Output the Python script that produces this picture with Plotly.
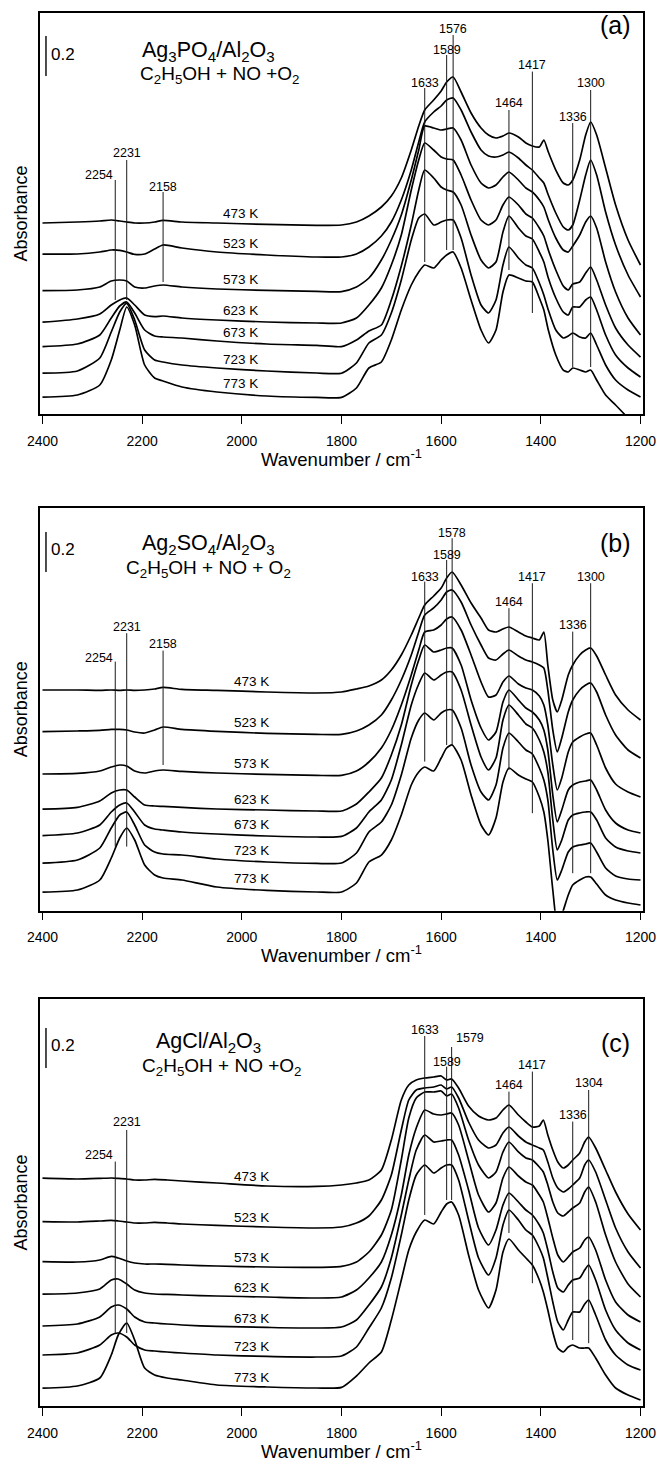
import numpy as np
import plotly.graph_objects as go

FONT = "Liberation Sans, Arial, Helvetica, sans-serif"
TEMPS = ["473 K", "523 K", "573 K", "623 K", "673 K", "723 K", "773 K"]
XTICKS = [2400, 2200, 2000, 1800, 1600, 1400, 1200]

# ---------------- panel (a): Ag3PO4/Al2O3 ----------------
WN_A = [2400, 2330, 2285, 2262, 2245, 2231, 2215, 2195, 2175, 2158, 2120, 2050, 1950, 1850, 1800,
        1770, 1745, 1720, 1700, 1680, 1660, 1645, 1633, 1615, 1600, 1589, 1576, 1560, 1540, 1520,
        1505, 1490, 1476, 1464, 1445, 1430, 1417, 1403, 1394, 1385, 1370, 1355, 1345, 1336, 1322,
        1310, 1300, 1288, 1270, 1250, 1225, 1200]
a473 = [0.955, 0.960, 0.965, 0.970, 0.965, 0.960, 0.955, 0.955, 0.960, 0.968, 0.960, 0.955, 0.948, 0.943, 0.945,
        0.960, 0.990, 1.035, 1.090, 1.180, 1.320, 1.440, 1.520, 1.570, 1.615, 1.660, 1.685, 1.610, 1.505, 1.430,
        1.395, 1.380, 1.390, 1.405, 1.385, 1.355, 1.340, 1.335, 1.370, 1.310, 1.220, 1.155, 1.145, 1.170, 1.270,
        1.395, 1.460, 1.395, 1.230, 1.045, 0.870, 0.745]
a523 = [0.799, 0.800, 0.810, 0.820, 0.818, 0.810, 0.798, 0.800, 0.825, 0.845, 0.830, 0.810, 0.795, 0.785, 0.785,
        0.800, 0.835, 0.890, 0.960, 1.070, 1.220, 1.360, 1.460, 1.510, 1.540, 1.570, 1.580, 1.520, 1.410, 1.320,
        1.290, 1.285, 1.295, 1.310, 1.280, 1.245, 1.220, 1.180, 1.155, 1.095, 1.005, 0.935, 0.920, 0.945, 1.070,
        1.195, 1.270, 1.195, 1.010, 0.845, 0.695, 0.585]
a573 = [0.617, 0.620, 0.635, 0.665, 0.670, 0.665, 0.635, 0.630, 0.640, 0.645, 0.635, 0.625, 0.618, 0.613, 0.612,
        0.635, 0.680, 0.770, 0.870, 0.995, 1.170, 1.320, 1.440, 1.430, 1.420, 1.425, 1.430, 1.370, 1.245, 1.155,
        1.130, 1.145, 1.185, 1.210, 1.170, 1.130, 1.110, 1.070, 1.035, 0.970, 0.880, 0.820, 0.810, 0.840, 0.895,
        0.960, 0.990, 0.930, 0.760, 0.610, 0.480, 0.395]
a623 = [0.459, 0.475, 0.500, 0.545, 0.570, 0.580, 0.545, 0.495, 0.487, 0.490, 0.480, 0.470, 0.460, 0.455, 0.455,
        0.480, 0.545, 0.630, 0.745, 0.895, 1.120, 1.270, 1.355, 1.320, 1.285, 1.275, 1.270, 1.195, 1.070, 0.970,
        0.945, 0.970, 1.045, 1.085, 1.045, 1.000, 0.980, 0.930, 0.890, 0.820, 0.720, 0.640, 0.620, 0.650, 0.660,
        0.705, 0.735, 0.670, 0.545, 0.430, 0.345, 0.285]
a673 = [0.337, 0.350, 0.395, 0.480, 0.540, 0.560, 0.505, 0.420, 0.390, 0.385, 0.380, 0.365, 0.350, 0.343, 0.337,
        0.370, 0.415, 0.445, 0.570, 0.740, 0.945, 1.120, 1.220, 1.180, 1.135, 1.120, 1.110, 1.045, 0.895, 0.770,
        0.730, 0.760, 0.910, 0.990, 0.930, 0.890, 0.875, 0.810, 0.760, 0.680, 0.580, 0.510, 0.495, 0.535, 0.535,
        0.570, 0.585, 0.520, 0.395, 0.295, 0.230, 0.185]
a723 = [0.204, 0.215, 0.280, 0.410, 0.510, 0.553, 0.470, 0.320, 0.270, 0.260, 0.245, 0.230, 0.215, 0.205, 0.204,
        0.255, 0.355, 0.395, 0.505, 0.670, 0.870, 0.980, 1.000, 0.945, 0.960, 0.970, 0.970, 0.880, 0.695, 0.545,
        0.505, 0.570, 0.745, 0.835, 0.780, 0.745, 0.730, 0.655, 0.595, 0.520, 0.420, 0.380, 0.390, 0.405, 0.385,
        0.380, 0.405, 0.345, 0.245, 0.170, 0.120, 0.085]
a773 = [0.084, 0.095, 0.145, 0.270, 0.420, 0.535, 0.445, 0.245, 0.180, 0.165, 0.135, 0.110, 0.090, 0.083, 0.083,
        0.130, 0.230, 0.260, 0.370, 0.520, 0.645, 0.710, 0.745, 0.730, 0.770, 0.795, 0.810, 0.730, 0.570, 0.420,
        0.355, 0.420, 0.610, 0.695, 0.680, 0.665, 0.660, 0.580, 0.520, 0.420, 0.295, 0.220, 0.210, 0.230, 0.220,
        0.210, 0.220, 0.170, 0.095, 0.045, -0.020, None]

# ---------------- panel (b): Ag2SO4/Al2O3 ----------------
WN_B = [2400, 2330, 2285, 2262, 2245, 2231, 2215, 2195, 2175, 2158, 2120, 2050, 1950, 1850, 1800,
        1770, 1745, 1720, 1700, 1680, 1660, 1645, 1633, 1615, 1600, 1589, 1578, 1560, 1540, 1520,
        1505, 1490, 1476, 1464, 1445, 1430, 1417, 1403, 1394, 1386, 1376, 1367, 1358, 1345, 1336,
        1322, 1310, 1300, 1288, 1270, 1250, 1225, 1200]
b473 = [1.100, 1.100, 1.098, 1.100, 1.098, 1.100, 1.098, 1.100, 1.105, 1.113, 1.103, 1.098, 1.090, 1.085, 1.090,
        1.105, 1.120, 1.150, 1.200, 1.275, 1.375, 1.460, 1.525, 1.570, 1.610, 1.660, 1.690, 1.625, 1.535, 1.460,
        1.400, 1.390, 1.405, 1.415, 1.390, 1.370, 1.360, 1.350, 1.390, 1.225, 1.050, 0.990, 1.050, 1.175, 1.225,
        1.275, 1.300, 1.310, 1.270, 1.175, 1.075, 1.000, 0.950]
b523 = [0.892, 0.895, 0.898, 0.903, 0.903, 0.900, 0.890, 0.885, 0.900, 0.915, 0.903, 0.893, 0.883, 0.878, 0.878,
        0.895, 0.925, 0.975, 1.050, 1.150, 1.275, 1.390, 1.475, 1.510, 1.550, 1.590, 1.600, 1.540, 1.425, 1.325,
        1.260, 1.250, 1.280, 1.300, 1.270, 1.250, 1.240, 1.225, 1.210, 1.100, 0.900, 0.790, 0.860, 0.990, 1.050,
        1.100, 1.125, 1.135, 1.090, 0.975, 0.875, 0.800, 0.760]
b573 = [0.680, 0.683, 0.695, 0.715, 0.725, 0.720, 0.695, 0.685, 0.695, 0.700, 0.693, 0.685, 0.678, 0.673, 0.673,
        0.695, 0.740, 0.810, 0.900, 1.025, 1.175, 1.300, 1.390, 1.400, 1.425, 1.455, 1.465, 1.400, 1.275, 1.140,
        1.065, 1.075, 1.140, 1.170, 1.130, 1.110, 1.100, 1.070, 1.025, 0.925, 0.725, 0.600, 0.660, 0.790, 0.840,
        0.865, 0.880, 0.885, 0.825, 0.710, 0.630, 0.590, 0.565]
b623 = [0.504, 0.513, 0.545, 0.585, 0.600, 0.600, 0.565, 0.525, 0.520, 0.518, 0.513, 0.505, 0.500, 0.495, 0.495,
        0.530, 0.590, 0.660, 0.775, 0.925, 1.125, 1.250, 1.325, 1.290, 1.300, 1.310, 1.310, 1.225, 1.050, 0.910,
        0.850, 0.890, 1.040, 1.100, 1.050, 1.010, 0.990, 0.950, 0.900, 0.800, 0.575, 0.440, 0.500, 0.600, 0.625,
        0.640, 0.645, 0.650, 0.600, 0.500, 0.435, 0.400, 0.385]
b673 = [0.372, 0.385, 0.425, 0.490, 0.525, 0.535, 0.490, 0.425, 0.405, 0.400, 0.390, 0.380, 0.370, 0.365, 0.368,
        0.410, 0.490, 0.550, 0.650, 0.825, 1.025, 1.130, 1.185, 1.150, 1.175, 1.190, 1.190, 1.100, 0.925, 0.765,
        0.700, 0.760, 0.950, 1.025, 0.975, 0.930, 0.910, 0.850, 0.790, 0.690, 0.450, 0.300, 0.350, 0.450, 0.475,
        0.485, 0.490, 0.490, 0.450, 0.360, 0.315, 0.295, 0.285]
b723 = [0.234, 0.250, 0.310, 0.410, 0.475, 0.490, 0.425, 0.325, 0.290, 0.280, 0.275, 0.255, 0.240, 0.233, 0.235,
        0.285, 0.390, 0.440, 0.525, 0.675, 0.860, 0.950, 0.985, 0.950, 0.985, 1.000, 1.000, 0.910, 0.725, 0.590,
        0.550, 0.625, 0.810, 0.885, 0.840, 0.800, 0.780, 0.710, 0.650, 0.550, 0.300, 0.150, 0.200, 0.290, 0.315,
        0.325, 0.330, 0.335, 0.290, 0.210, 0.170, 0.155, 0.150]
b773 = [0.089, 0.100, 0.150, 0.260, 0.360, 0.410, 0.350, 0.225, 0.175, 0.160, 0.150, 0.115, 0.098, 0.090, 0.090,
        0.135, 0.240, 0.275, 0.350, 0.475, 0.625, 0.690, 0.715, 0.695, 0.760, 0.810, 0.825, 0.750, 0.575, 0.425,
        0.375, 0.460, 0.640, 0.710, 0.675, 0.655, 0.640, 0.565, 0.490, 0.350, 0.100, -0.075, -0.025, 0.075, 0.125,
        0.150, 0.165, 0.165, 0.130, 0.075, 0.050, 0.035, 0.025]

# ---------------- panel (c): AgCl/Al2O3 ----------------
WN_C = [2400, 2330, 2285, 2262, 2248, 2231, 2215, 2195, 2175, 2150, 2120, 2050, 1950, 1850, 1800,
        1770, 1745, 1720, 1700, 1680, 1665, 1650, 1633, 1615, 1600, 1589, 1579, 1565, 1545, 1525,
        1505, 1490, 1476, 1464, 1445, 1430, 1417, 1403, 1395, 1386, 1376, 1366, 1355, 1345, 1336,
        1322, 1312, 1304, 1290, 1270, 1250, 1225, 1200]
c473 = [1.139, 1.135, 1.138, 1.140, 1.138, 1.135, 1.130, 1.130, 1.133, 1.130, 1.125, 1.115, 1.100, 1.098, 1.105,
        1.115, 1.130, 1.180, 1.330, 1.530, 1.605, 1.630, 1.640, 1.645, 1.650, 1.630, 1.635, 1.590, 1.500, 1.450,
        1.430, 1.440, 1.480, 1.505, 1.455, 1.420, 1.395, 1.400, 1.430, 1.355, 1.280, 1.220, 1.190, 1.205, 1.230,
        1.265, 1.320, 1.345, 1.290, 1.180, 1.070, 0.960, 0.880]
c523 = [0.922, 0.920, 0.925, 0.928, 0.925, 0.920, 0.915, 0.915, 0.918, 0.915, 0.910, 0.903, 0.895, 0.890, 0.895,
        0.915, 0.950, 1.030, 1.155, 1.380, 1.530, 1.580, 1.590, 1.595, 1.605, 1.585, 1.595, 1.540, 1.420, 1.330,
        1.290, 1.305, 1.365, 1.395, 1.350, 1.320, 1.305, 1.290, 1.280, 1.220, 1.140, 1.090, 1.070, 1.085, 1.105,
        1.140, 1.205, 1.230, 1.170, 1.030, 0.890, 0.770, 0.690]
c573 = [0.722, 0.720, 0.730, 0.748, 0.740, 0.725, 0.715, 0.710, 0.710, 0.708, 0.705, 0.700, 0.695, 0.693, 0.698,
        0.720, 0.770, 0.855, 0.980, 1.230, 1.440, 1.540, 1.570, 1.570, 1.575, 1.550, 1.560, 1.490, 1.330, 1.205,
        1.140, 1.170, 1.270, 1.320, 1.270, 1.240, 1.230, 1.195, 1.170, 1.105, 1.020, 0.965, 0.950, 0.970, 0.990,
        1.015, 1.070, 1.095, 1.020, 0.855, 0.720, 0.610, 0.545]
c623 = [0.559, 0.565, 0.585, 0.630, 0.635, 0.610, 0.580, 0.565, 0.560, 0.558, 0.555, 0.550, 0.545, 0.540, 0.545,
        0.580, 0.640, 0.720, 0.855, 1.055, 1.255, 1.390, 1.480, 1.460, 1.455, 1.460, 1.465, 1.405, 1.230, 1.055,
        0.970, 1.015, 1.140, 1.195, 1.150, 1.120, 1.105, 1.055, 1.020, 0.940, 0.840, 0.755, 0.720, 0.745, 0.770,
        0.790, 0.830, 0.845, 0.780, 0.630, 0.520, 0.455, 0.420]
c673 = [0.400, 0.410, 0.445, 0.495, 0.505, 0.485, 0.445, 0.420, 0.415, 0.410, 0.405, 0.398, 0.393, 0.390, 0.395,
        0.430, 0.505, 0.595, 0.740, 0.955, 1.130, 1.280, 1.355, 1.320, 1.325, 1.330, 1.330, 1.255, 1.080, 0.890,
        0.805, 0.880, 1.005, 1.065, 1.020, 0.980, 0.955, 0.905, 0.865, 0.780, 0.670, 0.590, 0.570, 0.605, 0.630,
        0.640, 0.680, 0.705, 0.630, 0.480, 0.380, 0.315, 0.280]
c723 = [0.255, 0.265, 0.305, 0.355, 0.365, 0.345, 0.305, 0.280, 0.275, 0.270, 0.265, 0.255, 0.248, 0.245, 0.250,
        0.295, 0.390, 0.490, 0.640, 0.855, 1.030, 1.155, 1.205, 1.165, 1.190, 1.205, 1.205, 1.130, 0.930, 0.740,
        0.655, 0.740, 0.905, 0.980, 0.930, 0.880, 0.855, 0.790, 0.740, 0.640, 0.520, 0.420, 0.380, 0.430, 0.470,
        0.470, 0.510, 0.530, 0.455, 0.330, 0.255, 0.205, 0.180]
c773 = [0.089, 0.100, 0.140, 0.255, 0.355, 0.415, 0.330, 0.190, 0.155, 0.140, 0.130, 0.105, 0.095, 0.090, 0.093,
        0.150, 0.215, 0.270, 0.430, 0.630, 0.780, 0.870, 0.930, 0.910, 0.970, 1.010, 1.020, 0.955, 0.755, 0.580,
        0.490, 0.580, 0.770, 0.835, 0.780, 0.740, 0.705, 0.630, 0.570, 0.480, 0.370, 0.290, 0.270, 0.295, 0.305,
        0.290, 0.290, 0.290, 0.240, 0.155, 0.090, 0.055, 0.030]

# peak marker labels: (text, wavenumber, label y, line top, line bottom, anchor)
PEAKS_A = [("2254", 2254, 1.195, 1.170, 0.570, "right"), ("2231", 2231, 1.303, 1.270, 0.570, "center"),
           ("2158", 2158, 1.135, 1.110, 0.660, "center"), ("1633", 1633, 1.657, 1.630, 0.760, "center"),
           ("1589", 1589, 1.820, 1.795, 0.820, "center"), ("1576", 1576, 1.924, 1.895, 0.820, "center"),
           ("1464", 1464, 1.555, 1.520, 0.720, "center"), ("1417", 1417, 1.745, 1.712, 0.505, "center"),
           ("1336", 1336, 1.487, 1.455, 0.235, "center"), ("1300", 1300, 1.654, 1.620, 0.235, "center")]
PEAKS_B = [("2254", 2254, 1.259, 1.242, 0.317, "right"), ("2231", 2231, 1.417, 1.384, 0.317, "center"),
           ("2158", 2158, 1.330, 1.297, 0.725, "center"), ("1633", 1633, 1.667, 1.642, 0.742, "center"),
           ("1589", 1589, 1.775, 1.750, 0.825, "center"), ("1578", 1578, 1.887, 1.859, 0.825, "center"),
           ("1464", 1464, 1.542, 1.509, 0.700, "center"), ("1417", 1417, 1.667, 1.634, 0.484, "center"),
           ("1336", 1336, 1.425, 1.392, 0.184, "center"), ("1300", 1300, 1.667, 1.634, 0.184, "center")]
PEAKS_C = [("2231", 2231, 1.422, 1.380, 0.365, "center"), ("2254", 2254, 1.255, 1.222, 0.365, "right"),
           ("1633", 1633, 1.880, 1.850, 0.955, "center"), ("1579", 1579, 1.839, 1.795, 1.030, "left"),
           ("1589", 1589, 1.722, 1.697, 1.030, "center"), ("1464", 1464, 1.605, 1.572, 0.865, "center"),
           ("1417", 1417, 1.705, 1.672, 0.614, "center"), ("1336", 1336, 1.455, 1.422, 0.330, "center"),
           ("1304", 1304, 1.614, 1.580, 0.314, "center")]

SUB2 = "C<sub>2</sub>H<sub>5</sub>OH + NO +O<sub>2</sub>"
panels = [
    dict(x="x", y="y", wn=WN_A, curves=[a473, a523, a573, a623, a673, a723, a773], peaks=PEAKS_A,
         yrange=[-0.0015, 2.0065], ydom=[0.71720, 0.99133], tlx=2003, tdy=0.05,
         t1="Ag<sub>3</sub>PO<sub>4</sub>/Al<sub>2</sub>O<sub>3</sub>", t1p=(2066, 1.815),
         t2=SUB2, t2p=(2044, 1.695), letter="(a)", lety=1.945, bar=(1.69, 1.89), xt_y=1 - 458 / 1465),
    dict(x="x2", y="y2", wn=WN_B, curves=[b473, b523, b573, b623, b673, b723, b773], peaks=PEAKS_B,
         yrange=[-0.0035, 2.0115], ydom=[0.37836, 0.65345], tlx=1981, tdy=0.052,
         t1="Ag<sub>2</sub>SO<sub>4</sub>/Al<sub>2</sub>O<sub>3</sub>", t1p=(2066, 1.825),
         t2="C<sub>2</sub>H<sub>5</sub>OH + NO + O<sub>2</sub>", t2p=(2066, 1.705), letter="(b)", lety=1.834,
         bar=(1.69, 1.89), xt_y=1 - 954 / 1465),
    dict(x="x3", y="y3", wn=WN_C, curves=[c473, c523, c573, c623, c673, c723, c773], peaks=PEAKS_C,
         yrange=[0.0, 2.035], ydom=[0.04027, 0.31809], tlx=1981, tdy=0.045,
         t1="AgCl/Al<sub>2</sub>O<sub>3</sub>", t1p=(2066, 1.818),
         t2=SUB2, t2p=(2040, 1.695), letter="(c)", lety=1.8135, bar=(1.69, 1.89), xt_y=1 - 1450 / 1465),
]

fig = go.Figure()
shapes, annots = [], []
for i, p in enumerate(panels):
    xr, yr = p["x"], p["y"]
    for temp, vals in zip(TEMPS, p["curves"]):
        fig.add_trace(go.Scatter(x=p["wn"], y=vals, mode="lines", xaxis=xr, yaxis=yr, name=temp,
                                 line=dict(color="black", width=1.7, shape="spline", smoothing=0.6),
                                 hoverinfo="skip", showlegend=False, connectgaps=False))
        pts = [(w, v) for w, v in zip(p["wn"], vals) if v is not None]
        ww = np.array([q[0] for q in pts])[::-1]
        vv = np.array([q[1] for q in pts])[::-1]
        ly = float(np.interp(p["tlx"], ww, vv)) + p["tdy"]
        annots.append(dict(x=p["tlx"], y=ly, xref=xr, yref=yr, text=temp, showarrow=False,
                           font=dict(size=13.5, family=FONT, color="black"), xanchor="center", yanchor="middle"))
    for txt, w, ty, top, bot, anc in p["peaks"]:
        shapes.append(dict(type="line", xref=xr, yref=yr, x0=w, x1=w, y0=bot, y1=top,
                           line=dict(color="#1a1a1a", width=1)))
        annots.append(dict(x=w, y=ty, xref=xr, yref=yr, text=txt, showarrow=False, xanchor=anc,
                           yanchor="middle", xshift=(2 if anc == "left" else 0),
                           font=dict(size=12.5, family=FONT, color="black")))
    annots.append(dict(x=p["t1p"][0], y=p["t1p"][1], xref=xr, yref=yr, text=p["t1"], showarrow=False,
                       xanchor="center", yanchor="middle",
                       font=dict(size=21.5, family=FONT, color="black")))
    annots.append(dict(x=p["t2p"][0], y=p["t2p"][1], xref=xr, yref=yr, text=p["t2"], showarrow=False,
                       xanchor="center", yanchor="middle",
                       font=dict(size=19, family=FONT, color="black")))
    annots.append(dict(x=1251, y=p["lety"], xref=xr, yref=yr, text=p["letter"], showarrow=False,
                       xanchor="center", yanchor="middle",
                       font=dict(size=25, family=FONT, color="black")))
    b0, b1 = p["bar"]
    shapes.append(dict(type="line", xref=xr, yref=yr, x0=2393, x1=2393, y0=b0, y1=b1,
                       line=dict(color="black", width=1.4)))
    annots.append(dict(x=2387, y=(b0 + b1) / 2 + 0.01, xref=xr, yref=yr, text="0.2", showarrow=False,
                       xanchor="left", yanchor="middle", font=dict(size=17, family=FONT, color="black")))
    annots.append(dict(x=21 / 656, y=(p["ydom"][0] + p["ydom"][1]) / 2, xref="paper", yref="paper",
                       text="Absorbance", textangle=-90, showarrow=False, xanchor="center", yanchor="middle",
                       font=dict(size=18, family=FONT, color="black")))
    annots.append(dict(x=0.5206, y=p["xt_y"], xref="paper", yref="paper", xanchor="center", yanchor="middle",
                       text="Wavenumber / cm<sup>-1</sup>", showarrow=False,
                       font=dict(size=18.5, family=FONT, color="black")))

    axx = dict(domain=[0.060976, 0.980183], range=[2405, 1195], anchor=yr, tickvals=XTICKS,
               ticks="outside", ticklen=8, tickwidth=1.3, tickcolor="black", showline=True,
               linecolor="black", linewidth=1.5, mirror=True, showgrid=False, zeroline=False,
               automargin=False, ticklabeloverflow="allow", ticklabelstandoff=5,
               tickfont=dict(size=14, family=FONT, color="black"))
    axy = dict(domain=p["ydom"], range=p["yrange"], anchor=xr, showline=True, linecolor="black",
               linewidth=1.5, mirror=True, ticks="", showticklabels=False, showgrid=False,
               zeroline=False, automargin=False)
    sfx = "" if i == 0 else str(i + 1)
    fig.update_layout(**{"xaxis" + sfx: axx, "yaxis" + sfx: axy})

fig.update_layout(template="none", width=656, height=1465, margin=dict(l=0, r=0, t=0, b=0, pad=0),
                  font=dict(family=FONT, color="black"),
                  plot_bgcolor="white", paper_bgcolor="white", showlegend=False,
                  shapes=shapes, annotations=annots)
fig.write_html("out.html")
